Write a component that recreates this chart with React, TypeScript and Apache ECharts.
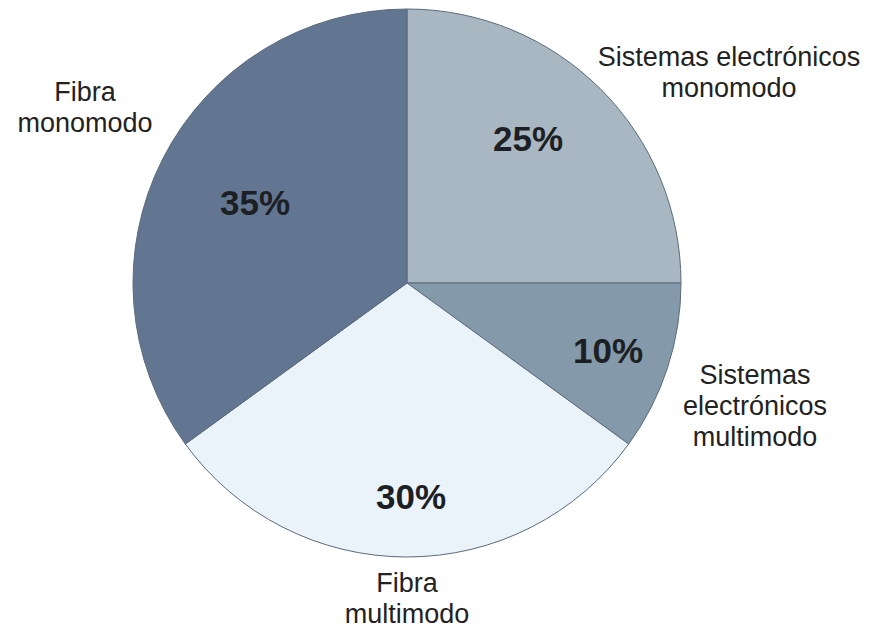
import React, { useEffect, useRef } from "react";
import * as echarts from "echarts";

const categories = [
  "Sistemas electrónicos\nmonomodo",
  "Sistemas\nelectrónicos\nmultimodo",
  "Fibra\nmultimodo",
  "Fibra\nmonomodo",
];
const values = [25, 10, 30, 35];
const sliceColors = ["#a9b7c2", "#8499a9", "#ebf3fa", "#637691"];

// label anchor positions (px) per slice
const innerPos = [
  [528, 138],
  [608, 350],
  [411, 496],
  [255, 202],
];
const outerPos = [
  [729, 72],
  [755, 406],
  [407, 598],
  [85, 107],
];

export default function App() {
  const ref = useRef<HTMLDivElement>(null);
  useEffect(() => {
    document.body.style.margin = "0";
    const chart = echarts.init(ref.current!, null, { renderer: "svg" });
    const data = categories.map((name, i) => ({
      name,
      value: values[i],
      itemStyle: { color: sliceColors[i] },
    }));
    chart.setOption({
      animation: false,
      backgroundColor: "#ffffff",
      series: [
        {
          type: "pie",
          center: [407, 283],
          radius: [0, 274],
          startAngle: 90,
          clockwise: true,
          silent: true,
          data,
          itemStyle: { borderColor: "#5a6b7c", borderWidth: 1 },
          label: {
            show: true,
            position: "inside",
            formatter: (p: any) => `${p.value}%`,
            fontFamily: "Liberation Sans, Arial, sans-serif",
            fontWeight: "bold",
            fontSize: 35,
            color: "#1c1f24",
          },
          labelLayout: (p: any) => ({
            x: innerPos[p.dataIndex][0],
            y: innerPos[p.dataIndex][1],
            align: "center",
            verticalAlign: "middle",
          }),
        },
        {
          type: "pie",
          center: [407, 283],
          radius: [0, 274],
          startAngle: 90,
          clockwise: true,
          silent: true,
          data: categories.map((name, i) => ({ name, value: values[i] })),
          itemStyle: { color: "rgba(0,0,0,0)", borderWidth: 0 },
          label: {
            show: true,
            position: "outside",
            formatter: (p: any) => p.name,
            fontFamily: "Liberation Sans, Arial, sans-serif",
            fontSize: 27,
            lineHeight: 31,
            align: "center",
            color: "#222222",
            overflow: "none",
          },
          labelLine: { show: false },
          labelLayout: (p: any) => ({
            x: outerPos[p.dataIndex][0],
            y: outerPos[p.dataIndex][1],
            align: "center",
            verticalAlign: "middle",
            width: 400,
          }),
        },
      ],
    });
    return () => chart.dispose();
  }, []);
  return (
    <div
      ref={ref}
      style={{ width: 880, height: 630, position: "absolute", left: 0, top: 0 }}
    />
  );
}
